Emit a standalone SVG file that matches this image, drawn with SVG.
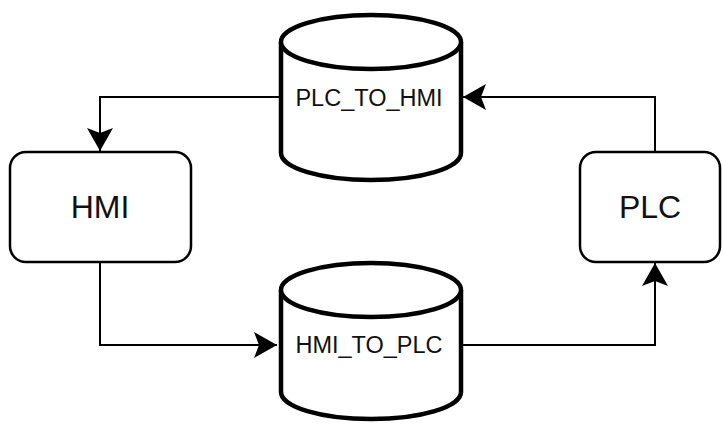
<svg xmlns="http://www.w3.org/2000/svg" width="723" height="425" viewBox="0 0 723 425">
  <style>
    .box { fill: #ffffff; stroke: #000000; stroke-width: 2.5; }
    .cyl { fill: #ffffff; stroke: #000000; stroke-width: 4.5; }
    .edge { fill: none; stroke: #000000; stroke-width: 2; }
    .big { font-family: "Liberation Sans", Arial, sans-serif; font-size: 32px; fill: #111111; text-anchor: middle; }
    .small { font-family: "Liberation Sans", Arial, sans-serif; font-size: 23.5px; fill: #111111; text-anchor: middle; }
  </style>
  <defs>
    <marker id="arrow" viewBox="0 0 24 26" refX="23" refY="13" markerWidth="24" markerHeight="26" markerUnits="userSpaceOnUse" orient="auto">
      <path d="M0,0 L23,13 L0,26 L5,13 Z" fill="#000000"/>
    </marker>
  </defs>
  <rect width="723" height="425" fill="#ffffff"/>

  <g id="connectors">
    <!-- PLC_TO_HMI -> HMI -->
    <path class="edge" d="M280,97 H100 V151" marker-end="url(#arrow)"/>
    <!-- PLC -> PLC_TO_HMI -->
    <path class="edge" d="M655,152 V97 H463" marker-end="url(#arrow)"/>
    <!-- HMI -> HMI_TO_PLC -->
    <path class="edge" d="M100,262 V345 H277" marker-end="url(#arrow)"/>
    <!-- HMI_TO_PLC -> PLC -->
    <path class="edge" d="M462,345 H655 V263" marker-end="url(#arrow)"/>
  </g>

  <g id="hmi">
    <rect class="box" x="10" y="152" width="181" height="110" rx="16"/>
    <text class="big" x="100" y="218">HMI</text>
  </g>

  <g id="plc">
    <rect class="box" x="580" y="152" width="140" height="110" rx="16"/>
    <text class="big" x="650" y="218">PLC</text>
  </g>

  <g id="plc_to_hmi">
    <path class="cyl" d="M281,42 A90,27 0 0 1 461,42 V153 A90,27 0 0 1 281,153 Z"/>
    <path class="cyl" d="M281,42 A90,27 0 0 0 461,42"/>
    <text class="small" x="369" y="106">PLC_TO_HMI</text>
  </g>

  <g id="hmi_to_plc">
    <path class="cyl" d="M281,290 A90,27 0 0 1 461,290 V392 A90,27 0 0 1 281,392 Z"/>
    <path class="cyl" d="M281,290 A90,27 0 0 0 461,290"/>
    <text class="small" x="369" y="353">HMI_TO_PLC</text>
  </g>
</svg>
